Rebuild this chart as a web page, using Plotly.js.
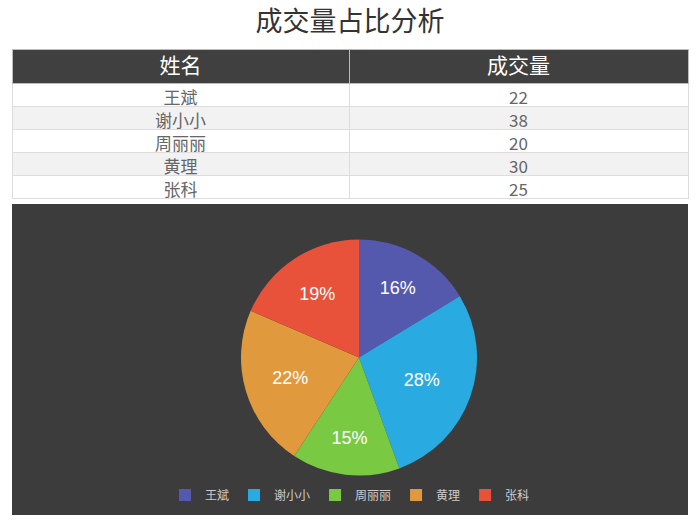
<!DOCTYPE html>
<html><head><meta charset="utf-8">
<script src="https://cdn.plot.ly/plotly-3.0.1.min.js"></script>
<style>html,body{margin:0;padding:0;background:#fff}</style>
</head><body>
<div id="chart" style="width:700px;height:530px"></div>
<script>
const names = ['王斌', '谢小小', '周丽丽', '黄理', '张科'];
const volumes = [22, 38, 20, 30, 25];
const headers = ['姓名', '成交量'];
const colors = ['#5459ad', '#29abe2', '#7ac943', '#e0993d', '#e8513a'];

const W = 700, H = 530;
const px = x => x / W;
const py = y => 1 - y / H;

const font = '"Noto Sans CJK SC", "Noto Sans", sans-serif';

const rowFill = names.map((_, i) => i % 2 === 0 ? '#ffffff' : '#f2f2f2');

const table = {
  type: 'table',
  domain: {x: [px(12), px(688)], y: [py(205), py(49)]},
  columnwidth: [337, 339],
  header: {
    values: headers,
    fill: {color: '#404040'},
    font: {family: font, size: 21, color: '#ffffff'},
    align: 'center',
    height: 34,
    line: {color: '#bbbbbb', width: 1}
  },
  cells: {
    values: [names, volumes],
    fill: {color: [rowFill, rowFill]},
    font: {family: font, size: 17, color: '#666666'},
    align: 'center',
    height: 23,
    line: {color: '#dddddd', width: 1}
  }
};

const pie = {
  type: 'pie',
  labels: names,
  values: volumes,
  sort: false,
  direction: 'clockwise',
  rotation: 0,
  marker: {colors: colors, line: {width: 0}},
  textinfo: 'percent',
  texttemplate: '%{percent:.0%}',
  textposition: 'inside',
  insidetextorientation: 'horizontal',
  textfont: {family: 'Arial, "Liberation Sans", sans-serif', size: 18, color: '#ffffff'},
  domain: {x: [px(241), px(477)], y: [py(476), py(239)]},
  hoverinfo: 'label+value+percent'
};

const layout = {
  width: W, height: H,
  margin: {l: 0, r: 0, t: 0, b: 0},
  paper_bgcolor: '#ffffff',
  title: {
    text: '成交量占比分析',
    font: {family: font, size: 27, color: '#333333'},
    x: 0.5, xanchor: 'center',
    y: py(22), yanchor: 'middle', yref: 'paper'
  },
  shapes: [{
    type: 'rect', xref: 'paper', yref: 'paper',
    x0: px(12), x1: px(688), y0: py(515), y1: py(204),
    fillcolor: '#3c3c3c', line: {width: 0}, layer: 'below'
  }],
  showlegend: true,
  legend: {
    orientation: 'h',
    x: 0.5, xanchor: 'center',
    y: py(495), yanchor: 'middle',
    font: {family: font, size: 12, color: '#cccccc'},
    bgcolor: 'rgba(0,0,0,0)',
    itemwidth: 30,
    traceorder: 'normal'
  }
};

Plotly.newPlot('chart', [table, pie], layout, {displayModeBar: false, staticPlot: true});
</script>
</body></html>
